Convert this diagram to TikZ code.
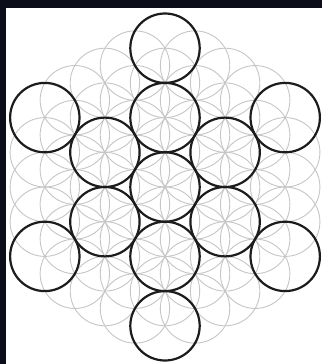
\documentclass[tikz,border=0pt]{standalone}
\usepackage{tikz}
\definecolor{frame}{HTML}{0B0D18}
\definecolor{petal}{HTML}{C6C6C6}
\definecolor{ink}{HTML}{1C1C1C}
\def\rr{34.7}

\begin{document}
\begin{tikzpicture}[x=1pt,y=-1pt,
 petal/.style={draw=petal,line width=0.9pt},
 fruit/.style={draw=ink,line width=2.2pt}
]
\useasboundingbox (0,0) rectangle (322,364);
\fill[frame] (0,0) rectangle (322,364);
\fill[white] (6,8) rectangle (322,364);

% flower of life, hexagon of 61 circles
\foreach \a in {-4,...,4}
 \foreach \b in {-4,...,4}{
  \pgfmathtruncatemacro\hd{max(abs(\a),abs(\b),abs(\a+\b))}
  \ifnum\hd<5
   \draw[petal] ({165+0.866*\b*\rr},{187-(\a+0.5*\b)*\rr}) circle[radius=\rr pt];
  \fi}

% fruit of life
\foreach \a/\b in {0/0,2/0,0/2,-2/2,-2/0,0/-2,2/-2,4/0,0/4,-4/4,-4/0,0/-4,4/-4}
 \draw[fruit] ({165+0.866*\b*\rr},{187-(\a+0.5*\b)*\rr}) circle[radius=\rr pt];
\end{tikzpicture}
\end{document}
